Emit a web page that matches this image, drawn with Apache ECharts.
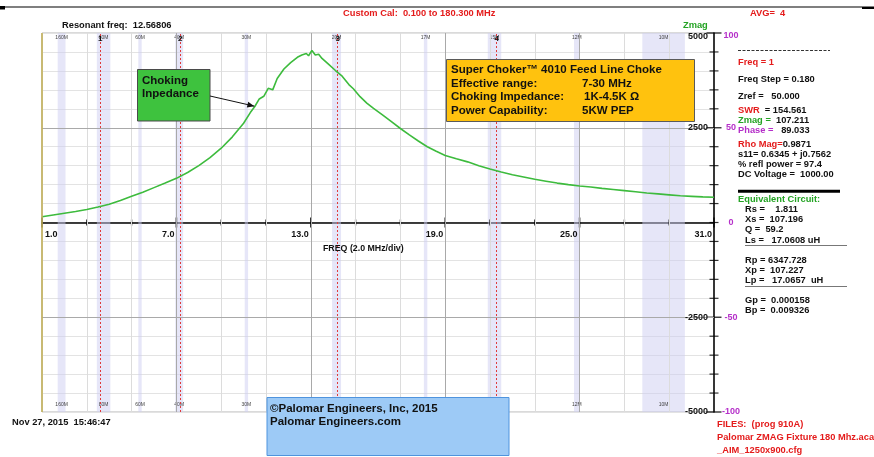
<!DOCTYPE html>
<html><head><meta charset="utf-8">
<script src="https://cdn.jsdelivr.net/npm/echarts@6/dist/echarts.min.js"></script>
<style>html,body{margin:0;padding:0;background:#fff}#c{width:874px;height:457px}</style>
</head><body><div id="c"></div>
<script>
// ---- data ----
const freqMHz = [1.0,1.5,2.0,2.5,3.0,3.5,4.0,4.5,5.0,5.5,6.0,6.5,7.0,7.5,8.0,8.5,9.0,9.5,10.0,10.3,10.5,10.7,10.9,11.1,11.3,11.5,11.8,12.1,12.4,12.6,12.8,12.9,13.05,13.2,13.35,13.5,13.8,14.1,14.4,14.7,14.9,15.2,15.5,15.8,16.2,16.6,17.0,17.4,17.8,18.2,18.6,19.0,19.5,20.0,20.5,21.0,21.5,22.0,22.5,23.0,23.5,24.0,24.5,25.0,25.5,26.0,26.5,27.0,27.5,28.0,28.5,29.0,29.5,30.0,30.5,31.0];
const zmagOhm = [150,200,245,290,345,410,480,580,690,800,920,1040,1165,1320,1500,1710,1960,2260,2620,2900,3060,3260,3330,3540,3500,3800,4050,4220,4360,4420,4460,4400,4540,4420,4440,4330,4170,4010,3860,3640,3530,3320,3150,3010,2840,2660,2480,2310,2150,2000,1880,1770,1680,1600,1500,1410,1330,1260,1200,1140,1090,1040,1000,965,935,900,870,840,810,780,755,730,705,690,675,665];
const xTickValues = [1,7,13,19,25,31];
const xTickLabels = ['1.0','7.0','13.0','19.0','25.0','31.0'];
const zTickValues = [5000,2500,-2500,-5000];
const zTickLabels = ['5000','2500','-2500','-5000'];
const phaseTickLabels = ['100','50','0','-50','-100'];
const phaseTickAt = [5000,2500,0,-2500,-5000];
const bandNames = ['160M','80M','60M','40M','30M','20M','17M','15M','12M','10M'];
const bandStart = [1.7,3.45,5.3,6.95,10.05,13.95,18.05,20.9,24.75,27.8];
const bandEnd   = [2.05,4.05,5.45,7.3,10.2,14.35,18.2,21.5,25.0,29.7];
const markerNames = ['1','2','3','4'];
const markerFreq = [3.6,7.17,14.2,21.3];

const FONT = '"Liberation Sans", Arial, Helvetica, sans-serif';
const RED = '#e41b1b', GREEN = '#24a324', MAG = '#b52fc9';
const FS = 9.3;
const chart = echarts.init(document.getElementById('c'));

const vLines = [];
for (let f = 3; f <= 29; f += 2) {
  vLines.push({xAxis: f, lineStyle: {color: ((f - 1) % 6 === 0) ? '#a9a9a9' : '#dcdcdc', width: 1, type: 'solid'}});
}
vLines.push({yAxis: 2500, lineStyle: {color: '#a9a9a9', width: 1, type: 'solid'}});
vLines.push({yAxis: -2500, lineStyle: {color: '#a9a9a9', width: 1, type: 'solid'}});

const xTicks = [];
for (let f = 1; f <= 31; f += 2) xTicks.push({value: [f, 0], symbolSize: ((f - 1) % 6 === 0) ? [1.6, 10] : [1.4, 6]});
const yTicks = [];
for (let v = -5000; v <= 5000; v += 500) {
  const major = (v % 2500 === 0) && v !== 0;
  yTicks.push({value: [31, v], symbolSize: major ? [15, 1.4] : [9, 1.2]});
}

chart.setOption({
  animation: false,
  grid: {left: 42, top: 33, width: 672, height: 379, show: true, borderColor: '#b4b4b4', borderWidth: 1, backgroundColor: 'transparent'},
  xAxis: {type: 'value', min: 1, max: 31, axisLine: {show: true, onZero: true, lineStyle: {color: '#000', width: 1.5}}, axisTick: {show: false}, axisLabel: {show: false}, splitLine: {show: false}},
  yAxis: {type: 'value', min: -5000, max: 5000, interval: 500, position: 'right', axisLine: {show: true, onZero: false, lineStyle: {color: '#000', width: 1.5}}, axisTick: {show: false}, axisLabel: {show: false}, splitLine: {show: true, lineStyle: {color: '#e3e3e3', width: 1}}},
  series: [
    {type: 'line', name: 'bands', data: [], silent: true, z: 1,
      markArea: {silent: true, itemStyle: {color: 'rgba(205,205,242,0.5)'},
        label: {show: true, position: 'insideTop', distance: 2, fontSize: 5, color: '#444', fontFamily: FONT, formatter: p => p.name},
        data: bandNames.map((n, i) => [{name: n, xAxis: bandStart[i]}, {xAxis: bandEnd[i]}])}},
    {type: 'line', name: 'bandsBottom', data: [], silent: true, z: 1,
      markArea: {silent: true, itemStyle: {color: 'rgba(0,0,0,0)'},
        label: {show: true, position: 'insideBottom', distance: 5, fontSize: 5, color: '#444', fontFamily: FONT, formatter: p => p.name},
        data: bandNames.map((n, i) => [{name: n, xAxis: bandStart[i]}, {xAxis: bandEnd[i]}])}},
    {type: 'line', name: 'gridlines', data: [], silent: true, z: 2,
      markLine: {silent: true, symbol: ['none', 'none'], label: {show: false}, data: vLines}},
    {type: 'line', name: 'markers', data: [], silent: true, z: 3,
      markLine: {silent: true, symbol: ['none', 'none'], label: {show: false},
        lineStyle: {color: '#e03a3a', width: 1, type: [2, 2]},
        data: markerFreq.map(f => ({xAxis: f}))}},
    {type: 'scatter', name: 'xticks', data: xTicks, symbol: 'rect', itemStyle: {color: '#000'}, silent: true, clip: false, z: 4},
    {type: 'scatter', name: 'yticks', data: yTicks, symbol: 'rect', itemStyle: {color: '#000'}, silent: true, clip: false, z: 4},
    {type: 'line', name: 'Zmag', data: freqMHz.map((f, i) => [f, zmagOhm[i]]), symbol: 'none', smooth: false,
      lineStyle: {color: '#3dbb3d', width: 1.6}, z: 5, silent: true}
  ]
});

const px = (x, y) => chart.convertToPixel({gridIndex: 0}, [x, y]);
const g = [];
function T(x, y, text, o) {
  o = o || {};
  g.push({type: 'text', x: x, y: y, z: 100, silent: true, style: {
    text: text, font: 'bold ' + (o.size || FS) + 'px ' + FONT, fill: o.fill || '#111',
    align: o.align || 'left', verticalAlign: o.va || 'middle', rich: o.rich}});
}
function L(x1, y1, x2, y2, stroke, w, dash) {
  g.push({type: 'line', z: 100, silent: true, shape: {x1, y1, x2, y2}, style: {stroke, lineWidth: w, lineDash: dash}});
}
function R(x, y, w, h, fill, stroke, lw) {
  g.push({type: 'rect', z: 99, silent: true, shape: {x, y, width: w, height: h}, style: {fill, stroke, lineWidth: lw || 1}});
}
const rf = c => ({fill: c, font: 'bold ' + FS + 'px ' + FONT});

// frame extras
const tl = px(1, 5000), br = px(31, -5000);
L(3, 7, 862, 7, '#000', 1.2);
R(0, 6, 5, 3.5, '#000', null, 0);
R(862, 6.5, 12, 2.5, '#000', null, 0);
L(tl[0], tl[1], tl[0], br[1], '#c4b25a', 1.6);

// header texts
T(343, 13.5, 'Custom Cal:  0.100 to 180.300 MHz', {fill: RED});
T(750, 13.5, 'AVG=  4', {fill: RED});
T(62, 25, 'Resonant freq:  12.56806');
T(683, 25, 'Zmag', {fill: GREEN});

// x labels
xTickValues.forEach((v, i) => {
  const p = px(v, 0);
  if (i === 0) T(p[0] + 3, p[1] + 12, xTickLabels[i], {size: 9});
  else T(p[0] - 2, p[1] + 12, xTickLabels[i], {size: 9, align: 'right'});
});
T(323, 248.5, 'FREQ (2.0 MHz/div)', {size: 8.8});

// right axis labels
zTickValues.forEach((v, i) => {
  const p = px(31, v);
  T(p[0] - 6, Math.max(p[1], 36.5), zTickLabels[i], {size: 9, align: 'right'});
});
phaseTickAt.forEach((v, i) => {
  const p = px(31, v);
  T(p[0] + 17, Math.max(p[1], 35.5), phaseTickLabels[i], {size: 9, align: 'center', fill: MAG});
});

// marker numbers
markerFreq.forEach((f, i) => {
  const p = px(f, 5000);
  T(p[0], p[1] + 6, markerNames[i], {size: 8, align: 'center'});
});

// green annotation + arrow
R(137.5, 69.5, 72.5, 51.5, '#3ec23e', '#4a4a4a', 1);
T(142, 80.5, 'Choking', {size: 11.5});
T(142, 94, 'Inpedance', {size: 11.5});
const tip = px(10.48, 3070);
const tail = [210, 96];
L(tail[0], tail[1], tip[0], tip[1], '#111', 1);
{
  const ang = Math.atan2(tip[1] - tail[1], tip[0] - tail[0]);
  const hl = 7, hw = 3;
  const bx = tip[0] - hl * Math.cos(ang), by = tip[1] - hl * Math.sin(ang);
  g.push({type: 'polygon', z: 100, silent: true, shape: {points: [
    [tip[0], tip[1]],
    [bx + hw * Math.sin(ang), by - hw * Math.cos(ang)],
    [bx - hw * Math.sin(ang), by + hw * Math.cos(ang)]]}, style: {fill: '#111'}});
}

// yellow box
R(446.5, 59.5, 248, 62, '#ffc20e', '#5a5a5a', 1);
T(451, 70, 'Super Choker\u2122 4010 Feed Line Choke', {size: 11.5});
T(451, 83.5, 'Effective range:', {size: 11.5});
T(582, 83.5, '7-30 MHz', {size: 11.5});
T(451, 97, 'Choking Impedance:', {size: 11.5});
T(584, 97, '1K-4.5K \u03A9', {size: 11.5});
T(451, 110.5, 'Power Capability:', {size: 11.5});
T(582, 110.5, '5KW PEP', {size: 11.5});

// blue box
R(267, 397.5, 242, 58, '#9dcaf6', '#4f94de', 1);
T(270, 409, '\u00A9Palomar Engineers, Inc, 2015', {size: 11.5});
T(270, 422, 'Palomar Engineers.com', {size: 11.5});

// date
T(12, 422.5, 'Nov 27, 2015  15:46:47');

// right panel
const PX = 738;
L(PX, 50.5, 830, 50.5, '#333', 1, [3, 1.5]);
T(PX, 62.5, 'Freq = 1', {fill: RED});
T(PX, 79.5, 'Freq Step = 0.180');
T(PX, 96, 'Zref =   50.000');
T(PX, 110, '{r|SWR}  = 154.561', {rich: {r: rf(RED)}});
T(PX, 120.5, '{gr|Zmag =}  107.211', {rich: {gr: rf(GREEN)}});
T(PX, 130.5, '{m|Phase =}   89.033', {rich: {m: rf(MAG)}});
T(PX, 144, '{r|Rho Mag=}0.9871', {rich: {r: rf(RED)}});
T(PX, 154.5, 's11= 0.6345 + j0.7562');
T(PX, 164.5, '% refl power = 97.4');
T(PX, 174.5, 'DC Voltage =  1000.00');
L(PX, 191.3, 840, 191.3, '#000', 3);
T(PX, 199.5, 'Equivalent Circuit:', {fill: GREEN});
const EX = 745;
T(EX, 209, 'Rs =    1.811');
T(EX, 219.5, 'Xs =  107.196');
T(EX, 229.5, 'Q =  59.2');
T(EX, 240, 'Ls =   17.0608 uH');
L(EX, 245.5, 847, 245.5, '#777', 1);
T(EX, 260, 'Rp = 6347.728');
T(EX, 270, 'Xp =  107.227');
T(EX, 280, 'Lp =   17.0657  uH');
L(EX, 286.5, 847, 286.5, '#777', 1);
T(EX, 300.5, 'Gp =  0.000158');
T(EX, 310.5, 'Bp =  0.009326');

// files
T(717, 424.5, 'FILES:  (prog 910A)', {fill: RED});
T(717, 437.5, 'Palomar ZMAG Fixture 180 Mhz.acalx', {fill: RED});
T(717, 450.5, '_AIM_1250x900.cfg', {fill: RED});

chart.setOption({graphic: {elements: g}});
</script>
</body></html>
